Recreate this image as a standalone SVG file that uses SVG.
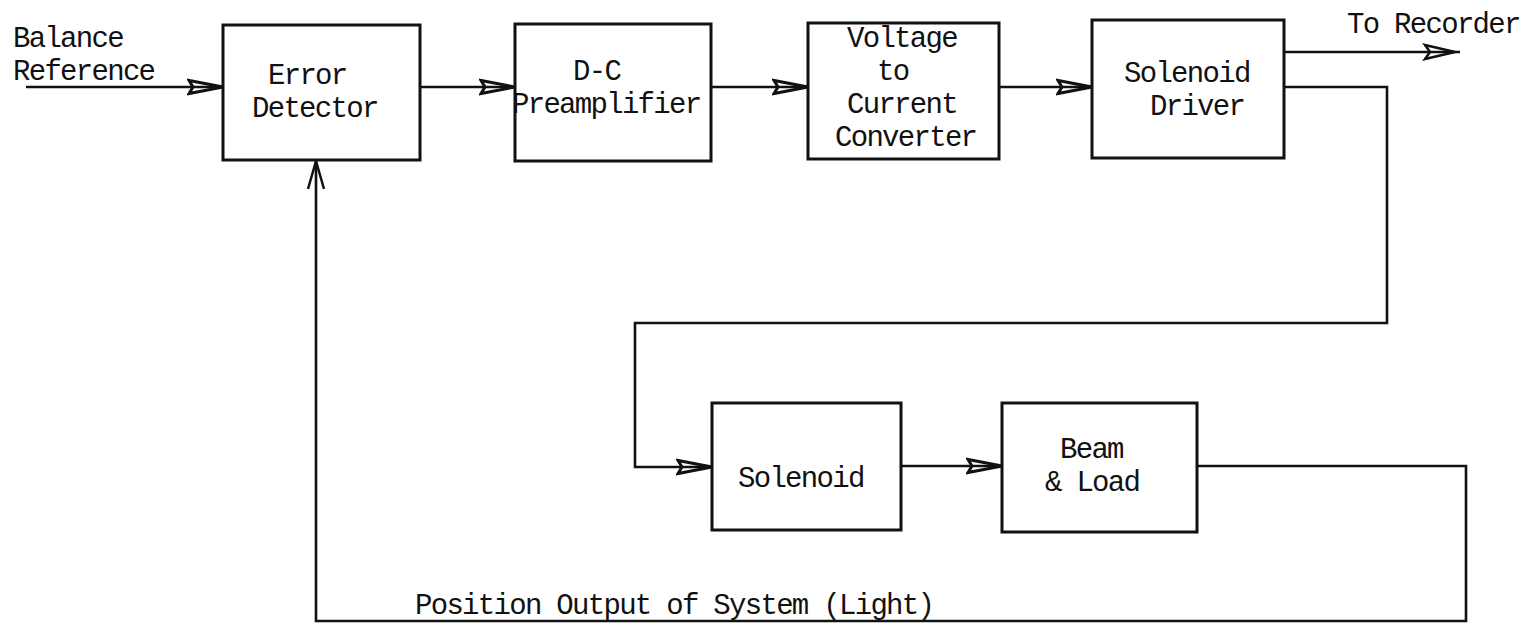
<svg xmlns="http://www.w3.org/2000/svg" width="1530" height="625" viewBox="0 0 1530 625">
<defs>
<style>
.box{fill:#fff;stroke:#111;stroke-width:3}
.wire{fill:none;stroke:#111;stroke-width:2.6;stroke-linejoin:miter}
.t{font-family:"Liberation Mono","Courier New",monospace;font-size:29px;letter-spacing:-1.7px;fill:#111}
</style>
<marker id="tri" markerUnits="userSpaceOnUse" markerWidth="40" markerHeight="20" viewBox="-36 -10 40 20" refX="0" refY="0" orient="auto">
<path d="M0,0 L-34,-6.5 L-30,0 L-34,6.5 Z" fill="none" stroke="#111" stroke-width="3" stroke-linejoin="miter"/>
</marker>
<marker id="chev" markerUnits="userSpaceOnUse" markerWidth="40" markerHeight="24" viewBox="-34 -12 40 24" refX="0" refY="0" orient="auto">
<path d="M-28,-8 L0,0 L-28,8" fill="none" stroke="#111" stroke-width="2.5"/>
</marker>
</defs>
<rect width="1530" height="625" fill="#fff"/>

<g id="connectors">
<path class="wire" d="M26,87 H223" marker-end="url(#tri)"/>
<path class="wire" d="M420,87 H515" marker-end="url(#tri)"/>
<path class="wire" d="M711,87 H808" marker-end="url(#tri)"/>
<path class="wire" d="M999,87 H1092" marker-end="url(#tri)"/>
<path class="wire" d="M1284,52 H1460"/>
<path d="M1455,52 L1425,45 L1430,52 L1425,59 Z" fill="none" stroke="#111" stroke-width="2.5"/>
<path class="wire" d="M1284,87 H1387 V323 H635 V467 H712" marker-end="url(#tri)"/>
<path class="wire" d="M901,466 H1002" marker-end="url(#tri)"/>
<path class="wire" d="M1197,466 H1466 V621 H316 V161" marker-end="url(#chev)"/>
</g>

<g id="balance-reference">
<text class="t" x="13" y="47">Balance</text>
<text class="t" x="13" y="80">Reference</text>
</g>
<g id="error-detector">
<rect class="box" x="223" y="25" width="197" height="135"/>
<text class="t" x="268" y="84">Error</text>
<text class="t" x="252" y="117">Detector</text>
</g>
<g id="dc-preamplifier">
<rect class="box" x="515" y="24" width="196" height="137"/>
<text class="t" x="573" y="80">D-C</text>
<text class="t" x="512" y="113">Preamplifier</text>
</g>
<g id="voltage-current-converter">
<rect class="box" x="808" y="23" width="191" height="136"/>
<text class="t" x="847" y="47">Voltage</text>
<text class="t" x="877" y="80">to</text>
<text class="t" x="847" y="113">Current</text>
<text class="t" x="835" y="146">Converter</text>
</g>
<g id="solenoid-driver">
<rect class="box" x="1092" y="20" width="192" height="138"/>
<text class="t" x="1124" y="82">Solenoid</text>
<text class="t" x="1150" y="115">Driver</text>
</g>
<g id="to-recorder">
<text class="t" x="1347" y="33">To Recorder</text>
</g>
<g id="solenoid">
<rect class="box" x="712" y="403" width="189" height="127"/>
<text class="t" x="738" y="487">Solenoid</text>
</g>
<g id="beam-load">
<rect class="box" x="1002" y="403" width="195" height="129"/>
<text class="t" x="1060" y="458">Beam</text>
<text class="t" x="1045" y="491">&amp; Load</text>
</g>
<g id="position-output">
<text class="t" x="415" y="614">Position Output of System (Light)</text>
</g>
</svg>
